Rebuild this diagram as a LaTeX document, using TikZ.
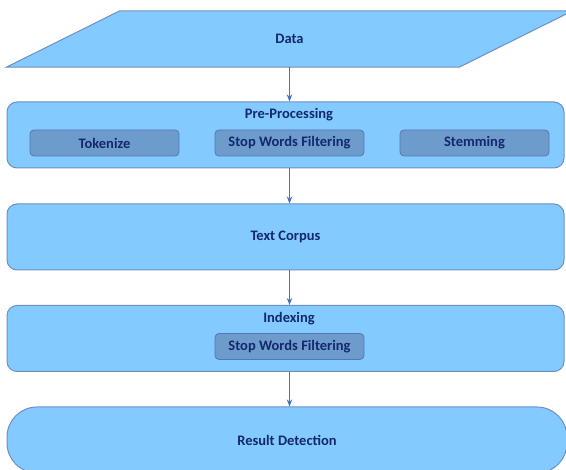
\documentclass[tikz,border=0pt]{standalone}
\usepackage{xcolor}
\usepackage{fontspec}
\setmainfont{Carlito}
\usepackage{tikz}
\usetikzlibrary{positioning,arrows.meta,backgrounds}

\definecolor{boxfill}{HTML}{82CAFF}
\definecolor{boxline}{HTML}{6F8FC4}
\definecolor{subfill}{HTML}{6C9BCC}
\definecolor{subline}{HTML}{5479B0}
\definecolor{textblue}{HTML}{14286E}
\definecolor{flowblue}{HTML}{4472C4}

\begin{document}
\begin{tikzpicture}
[x=1pt, y=-1pt,
    font=\fontsize{14.5}{16}\selectfont\bfseries,
    every node/.style={text=textblue, align=center, inner sep=0pt},
    stage/.style={rectangle, rounded corners=10pt, fill=boxfill,
    draw=boxline, line width=1pt, minimum width=557pt, minimum height=66pt},
    result/.style={stage, rounded corners=30pt, minimum width=560pt},
    datashape/.style={rectangle, minimum width=452.5pt, minimum height=56pt},
    dataline/.style={fill=boxfill, draw=boxline, line width=1pt},
    subbox/.style={rectangle, rounded corners=4pt, fill=subfill,
    draw=subline, line width=0.8pt, minimum width=149pt, minimum height=26pt},
    flow/.style={draw=flowblue, line width=1.5pt,
    -{Stealth[length=7pt,width=5.5pt]}}
    ]

    \clip (0,0) rectangle (566,470);

    \node [datashape] (data) at (289.5,39) {Data};
    \begin{pgfonlayer}{background}
    \draw [dataline] ([xshift=-56.75pt]data.south west)
        -- ([xshift=-56.75pt]data.south east)
        -- ([xshift=56.75pt]data.north east)
        -- ([xshift=56.75pt]data.north west) -- cycle;
    \end{pgfonlayer}

    % pre-processing
    \node [stage] (pre) at (285.5,135) {};
    \node (pretitle) at (289,115) {Pre-Processing};
    \node [subbox] (tokenize) at (104.5,143) {Tokenize};
    \node [subbox] (stopwords) at (289.5,143) {Stop Words Filtering};
    \node [subbox] (stemming) at (474.5,143) {Stemming};

    \node [stage] (corpus) at (285.5,237) {Text Corpus};

    % indexing
    \node [stage] (indexing) at (285.5,338.5) {};
    \node (indextitle) at (289,319) {Indexing};
    \node [subbox] (indexstop) at (289.5,346.5) {Stop Words Filtering};

    \node [result] (result) at (287,440) {Result Detection};

    \draw [flow] (data.south) -- (data.south |- pre.north);
    \draw [flow] (pre.south -| data) -- (corpus.north -| data);
    \draw [flow] (corpus.south -| data) -- (indexing.north -| data);
    \draw [flow] (indexing.south -| data) -- (result.north -| data);
\end{tikzpicture}
\end{document}
